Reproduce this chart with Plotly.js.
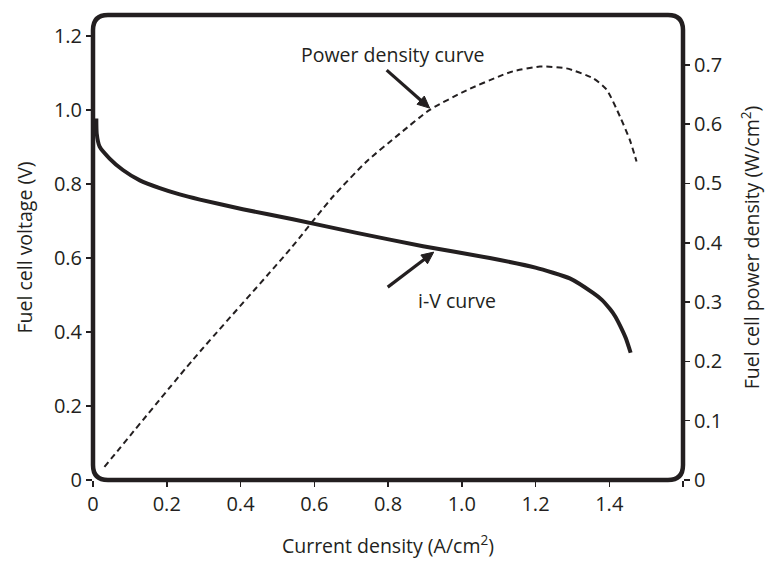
<!DOCTYPE html>
<html>
<head>
<meta charset="utf-8">
<script src="https://cdn.plot.ly/plotly-3.0.1.min.js"></script>
<style>
  html, body { margin: 0; padding: 0; background: #ffffff; }
  #chart { width: 769px; height: 561px; }
</style>
</head>
<body>
<div id="chart"></div>
<script>
// i-V curve: current density (A/cm2) vs voltage (V)
const ivCurrent = [0.009, 0.010, 0.018, 0.045, 0.081, 0.127, 0.181, 0.235, 0.29, 0.406, 0.542, 0.715, 0.895, 1.076, 1.2, 1.293, 1.357, 1.38, 1.402, 1.415, 1.429, 1.445, 1.458];
const ivVoltage = [0.977, 0.937, 0.901, 0.869, 0.838, 0.810, 0.789, 0.772, 0.758, 0.732, 0.705, 0.668, 0.632, 0.600, 0.574, 0.545, 0.505, 0.487, 0.462, 0.444, 0.418, 0.383, 0.344];

// Power density curve: current density (A/cm2) vs power density (W/cm2)
const pdCurrent = [0.031, 0.27, 0.533, 0.651, 0.742, 0.832, 0.913, 1.013, 1.103, 1.139, 1.212, 1.284, 1.357, 1.393, 1.429, 1.456, 1.474];
const pdPower   = [0.022, 0.202, 0.388, 0.478, 0.537, 0.584, 0.624, 0.657, 0.681, 0.689, 0.697, 0.694, 0.677, 0.658, 0.613, 0.573, 0.537];

// Tick labels
const xTickVals = [0, 0.2, 0.4, 0.6, 0.8, 1.0, 1.2, 1.4];
const xTickText = ['0', '0.2', '0.4', '0.6', '0.8', '1.0', '1.2', '1.4'];
const xStubTicks = [1.6];
const yTickVals = [0, 0.2, 0.4, 0.6, 0.8, 1.0, 1.2];
const yTickText = ['0', '0.2', '0.4', '0.6', '0.8', '1.0', '1.2'];
const y2TickVals = [0, 0.1, 0.2, 0.3, 0.4, 0.5, 0.6, 0.7];
const y2TickText = ['0', '0.1', '0.2', '0.3', '0.4', '0.5', '0.6', '0.7'];

// Labels
const powerLabel = 'Power density curve';
const ivLabel = 'i-V curve';

const INK = '#231f20';
const FONT = '"Open Sans", "Noto Sans", sans-serif';
const TICK_SIZE = 20;
const TITLE_SIZE = 19.5;

const traces = [
  {
    x: ivCurrent, y: ivVoltage, xaxis: 'x', yaxis: 'y',
    mode: 'lines', line: {color: INK, width: 4, shape: 'spline', smoothing: 0.5},
    hoverinfo: 'skip', showlegend: false
  },
  {
    x: pdCurrent, y: pdPower, xaxis: 'x', yaxis: 'y2',
    mode: 'lines', line: {color: INK, width: 2, dash: '6px,4px', shape: 'spline', smoothing: 0.6},
    hoverinfo: 'skip', showlegend: false
  }
];

const W = 769, H = 561, L = 93, R = 86, T = 15, B = 81;
const pw = W - L - R, ph = H - T - B;
const rx = 15 / pw, ry = 15 / ph;
const framePath = `M ${rx},0 L ${1-rx},0 Q 1,0 1,${ry} L 1,${1-ry} Q 1,1 ${1-rx},1 L ${rx},1 Q 0,1 0,${1-ry} L 0,${ry} Q 0,0 ${rx},0 Z`;

const axisCommon = {
  ticks: 'outside', ticklen: 6, tickwidth: 1.5, tickcolor: INK,
  showgrid: false, zeroline: false, showline: false,
  tickfont: {family: FONT, size: TICK_SIZE, color: INK},
  fixedrange: true
};

// Arrow helper: pointer anchored at a data point, offsets in pixels (y up)
function arrowShapes(xa, ya, yref, tailDx, tailDy) {
  const len = Math.hypot(tailDx, tailDy);
  const ux = -tailDx / len, uy = -tailDy / len; // direction tail -> head
  const hl = 12, hw = 5.5;
  const bx = -hl * ux, by = -hl * uy;
  const nx = -uy, ny = ux;
  const p1 = [bx + hw * nx, by + hw * ny], p2 = [bx - hw * nx, by - hw * ny];
  const common = {xref: 'x', yref: yref, xsizemode: 'pixel', ysizemode: 'pixel',
                  xanchor: xa, yanchor: ya, layer: 'above'};
  return [
    Object.assign({type: 'line', x0: tailDx, y0: tailDy, x1: bx * 0.8, y1: by * 0.8,
                   line: {color: INK, width: 3.2}}, common),
    Object.assign({type: 'path', path: `M 0,0 L ${p1[0]},${p1[1]} L ${p2[0]},${p2[1]} Z`,
                   fillcolor: INK, line: {color: INK, width: 1}}, common)
  ];
}

const layout = {
  width: W, height: H,
  margin: {l: L, r: R, t: T, b: B, pad: 0},
  paper_bgcolor: '#ffffff', plot_bgcolor: '#ffffff',
  font: {family: FONT, color: INK},
  xaxis: Object.assign({}, axisCommon, {
    range: [0, 1.6], tickmode: 'array', tickvals: xTickVals, ticktext: xTickText,
    minor: {tickmode: 'array', tickvals: xStubTicks, ticks: 'outside', ticklen: 6, tickwidth: 1.5, tickcolor: INK, showgrid: false},
    title: {text: 'Current density (A/cm<sup>2</sup>)', font: {family: FONT, size: TITLE_SIZE, color: INK}, standoff: 23}
  }),
  yaxis: Object.assign({}, axisCommon, {
    range: [0, 1.257], tickmode: 'array', tickvals: yTickVals, ticktext: yTickText,
    title: {text: 'Fuel cell voltage (V)', font: {family: FONT, size: TITLE_SIZE, color: INK}, standoff: 16}
  }),
  yaxis2: Object.assign({}, axisCommon, {
    range: [0, 0.784], tickmode: 'array', tickvals: y2TickVals, ticktext: y2TickText,
    overlaying: 'y', side: 'right',
    title: {text: 'Fuel cell power density (W/cm<sup>2</sup>)', font: {family: FONT, size: TITLE_SIZE, color: INK}, standoff: 23}
  }),
  shapes: [
    {type: 'path', xref: 'paper', yref: 'paper', path: framePath,
     line: {color: INK, width: 4.5}, fillcolor: 'rgba(0,0,0,0)', layer: 'above'}
  ].concat(
    arrowShapes(0.913, 0.627, 'y2', -43, 38),
    arrowShapes(0.924, 0.616, 'y', -46, -35)
  ),
  annotations: [
    {x: 0.813, y: 1.149, xref: 'x', yref: 'y', text: powerLabel, showarrow: false,
     font: {family: FONT, size: TITLE_SIZE, color: INK}},
    {x: 0.986, y: 0.486, xref: 'x', yref: 'y', text: ivLabel, showarrow: false,
     font: {family: FONT, size: TITLE_SIZE, color: INK}}
  ]
};

Plotly.newPlot('chart', traces, layout, {displayModeBar: false, staticPlot: true});
</script>
</body>
</html>
